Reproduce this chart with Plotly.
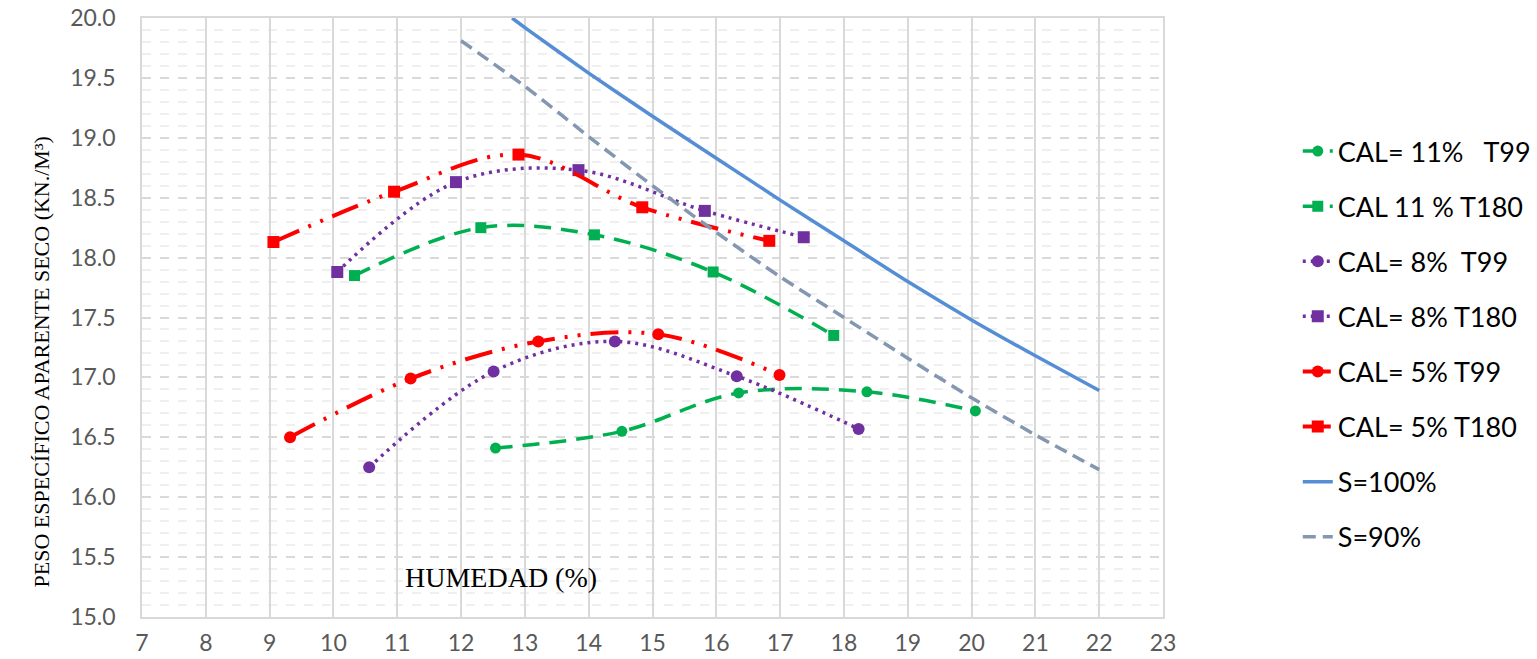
import plotly.graph_objects as go

# ---- data ----
x_cal11_t99 = [12.54, 14.52, 16.35, 18.36, 20.06]
y_cal11_t99 = [16.41, 16.55, 16.87, 16.88, 16.72]

x_cal11_t180 = [10.33, 12.31, 14.09, 15.95, 17.84]
y_cal11_t180 = [17.85, 18.25, 18.19, 17.88, 17.35]

x_cal8_t99 = [10.56, 12.51, 14.41, 16.32, 18.23]
y_cal8_t99 = [16.25, 17.05, 17.30, 17.01, 16.57]

x_cal8_t180 = [10.06, 11.92, 13.84, 15.82, 17.37]
y_cal8_t180 = [17.88, 18.63, 18.73, 18.39, 18.17]

x_cal5_t99 = [9.32, 11.21, 13.21, 15.09, 16.99]
y_cal5_t99 = [16.50, 16.99, 17.30, 17.36, 17.02]

x_cal5_t180 = [9.06, 10.95, 12.90, 14.84, 16.83]
y_cal5_t180 = [18.13, 18.55, 18.86, 18.42, 18.14]

x_s100 = [12.8, 13, 14, 15, 16, 17, 18, 19, 20, 21, 22]
y_s100 = [20.00, 19.92, 19.54, 19.18, 18.83, 18.48, 18.14, 17.80, 17.48, 17.18, 16.89]

x_s90 = [12, 13, 14, 15, 16, 17, 18, 19, 20, 21, 22]
y_s90 = [19.81, 19.43, 19.01, 18.60, 18.21, 17.84, 17.50, 17.16, 16.83, 16.52, 16.23]

names = ["CAL= 11%\u00a0\u00a0\u00a0T99", "CAL 11 % T180", "CAL= 8%\u00a0\u00a0T99",
         "CAL= 8% T180", "CAL= 5% T99", "CAL= 5% T180", "S=100%", "S=90%"]

GREEN = "#00B050"
PURPLE = "#7030A0"
RED = "#FF0000"
BLUE = "#558ED5"
GRAY = "#8497B0"

green_dash = "17px,10px"
purple_dash = "3px,5px"
red_dash = "28px,10px,3px,10px,3px,10px"

series = [
    (x_cal11_t99, y_cal11_t99, GREEN, green_dash, 3.5, "circle", 11),
    (x_cal11_t180, y_cal11_t180, GREEN, green_dash, 3.5, "square", 11),
    (x_cal8_t99, y_cal8_t99, PURPLE, purple_dash, 3.5, "circle", 12),
    (x_cal8_t180, y_cal8_t180, PURPLE, purple_dash, 3.5, "square", 12),
    (x_cal5_t99, y_cal5_t99, RED, red_dash, 4, "circle", 12),
    (x_cal5_t180, y_cal5_t180, RED, red_dash, 4, "square", 12),
]

fig = go.Figure()
for i, (xs, ys, c, d, w, sym, sz) in enumerate(series):
    fig.add_trace(go.Scatter(
        x=xs, y=ys, name=names[i], mode="lines+markers", legendgroup=f"g{i}",
        line=dict(color=c, dash=d, width=w, shape="spline", smoothing=1.0),
        marker=dict(symbol=sym, size=sz, color=c),
    ))

fig.add_trace(go.Scatter(x=x_s100, y=y_s100, name=names[6], mode="lines", legendgroup="g6",
                         line=dict(color=BLUE, width=3.5, shape="spline", smoothing=0.6)))
fig.add_trace(go.Scatter(x=x_s90, y=y_s90, name=names[7], mode="lines", legendgroup="g7",
                         line=dict(color=GRAY, width=3.5, dash="13px,7px", shape="spline", smoothing=0.6)))

tickfont = dict(family="Lato, 'Open Sans', sans-serif", size=23, color="#595959")

fig.update_layout(
    width=1537, height=659,
    margin=dict(l=142, r=374, t=18, b=42, autoexpand=False),
    paper_bgcolor="white", plot_bgcolor="white",
    legend=dict(x=1.132, y=0.818, xanchor="left", yanchor="top",
                font=dict(family="Lato, 'Open Sans', sans-serif", size=27, color="#000000"),
                tracegroupgap=17, bgcolor="rgba(0,0,0,0)"),
    showlegend=True,
)

fig.update_xaxes(
    range=[7, 23], dtick=1, tick0=7, tickfont=tickfont,
    showgrid=True, gridcolor="#D9D9D9", gridwidth=1.5,
    showline=True, linecolor="#D9D9D9", linewidth=1.5, mirror=True,
    ticks="", zeroline=False, ticklabelstandoff=5, fixedrange=True,
)
fig.update_yaxes(
    range=[15, 20], dtick=0.5, tick0=15, tickformat=".1f", tickfont=tickfont,
    showgrid=True, gridcolor="#D9D9D9", gridwidth=1.5, griddash="dash",
    minor=dict(dtick=0.1, tick0=15, showgrid=True, gridcolor="#EFEFEF", gridwidth=1.5, griddash="dash"),
    showline=True, linecolor="#D9D9D9", linewidth=1.5, mirror=True,
    ticks="", zeroline=False, ticklabelstandoff=20, fixedrange=True,
)

fig.add_annotation(
    text="HUMEDAD (%)", xref="x", yref="y", x=12.62, y=15.33, showarrow=False,
    font=dict(family="'Liberation Serif', 'Times New Roman', serif", size=28, color="#000000"),
)
fig.add_annotation(
    text="PESO ESPECÍFICO APARENTE SECO (KN./M³)", xref="paper", yref="paper",
    x=(27 - 142) / 1021, y=(617 - 362) / 599, textangle=-90, showarrow=False,
    font=dict(family="'Liberation Serif', 'Times New Roman', serif", size=22, color="#000000"),
)

fig.write_html(
    "out.html",
    config={"displayModeBar": False},
    post_script="document.body.style.margin='0';document.body.style.overflow='hidden';",
)
